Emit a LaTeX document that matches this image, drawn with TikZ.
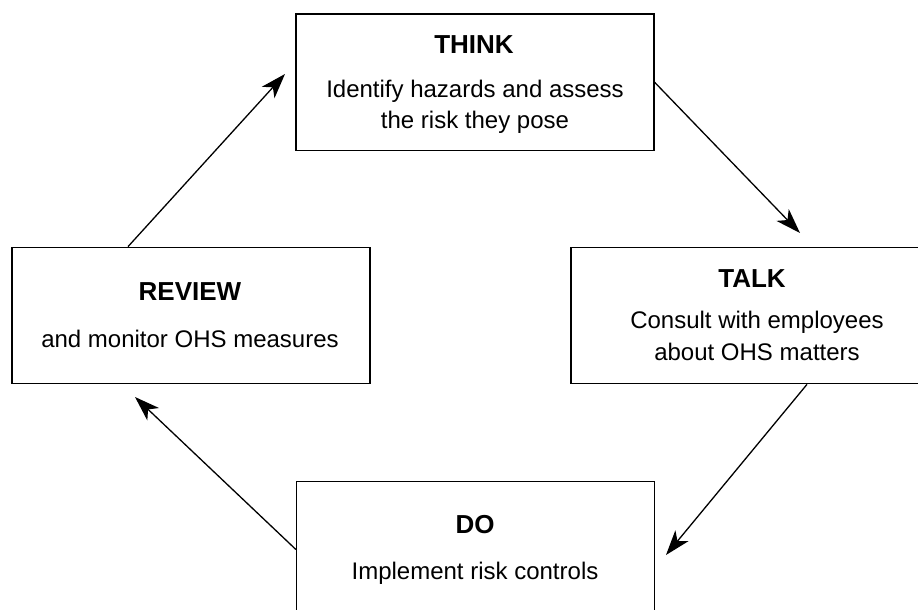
\documentclass[tikz,border=0pt]{standalone}
\usepackage{fontspec}
\setmainfont{Liberation Sans}
\usetikzlibrary{arrows.meta}

\begin{document}
\begin{tikzpicture}[x=1pt,y=-1pt,
  box/.style={draw, line width=1.2pt, minimum width=358pt, minimum height=136.5pt, inner sep=0pt},
  title/.style={font=\fontsize{26}{28}\selectfont\bfseries, anchor=base, inner sep=0pt},
  body/.style={font=\fontsize{24}{28}\selectfont, anchor=base, inner sep=0pt},
  flow/.style={line width=1.3pt, -{Stealth[length=25pt,width=17pt,inset=7pt]}}]
\useasboundingbox (0,0) rectangle (918,610);
\clip (0,0) rectangle (918,610);
\fill[white] (0,0) rectangle (918,610);

% the four stages of the cycle
\node[box] (think)  at (475,82.25)  {};
\node[box] (talk)   at (750,315.5)  {};
\node[box] (review) at (191,315.5)  {};
\node[box] (do)     at (475.5,549.5) {};

% stage labels
\node[title] (thinkT)  at (474,53)  {THINK};
\node[body]  (thinkA)  at (475,97)  {Identify hazards and assess};
\node[body]  (thinkB)  at (475,128) {the risk they pose};

\node[title] (talkT)   at (752,287) {TALK};
\node[body]  (talkA)   at (757,328) {Consult with employees};
\node[body]  (talkB)   at (757,360) {about OHS matters};

\node[title] (reviewT) at (190,300) {REVIEW};
\node[body]  (reviewA) at (190,347) {and monitor OHS measures};

\node[title] (doT)     at (475,533) {DO};
\node[body]  (doA)     at (475,579) {Implement risk controls};

% arrow tips stop just short of the next stage
\coordinate (tipTalk)   at (800,233);
\coordinate (tipDo)     at (666,555);
\coordinate (tipReview) at (135,397);
\coordinate (tipThink)  at (285,74);

\draw[flow] (think.east) -- (tipTalk);
\draw[flow] ([xshift=57pt]talk.south) -- (tipDo);
\draw[flow] (do.west) -- (tipReview);
\draw[flow] ([xshift=-63pt]review.north) -- (tipThink);
\end{tikzpicture}
\end{document}
